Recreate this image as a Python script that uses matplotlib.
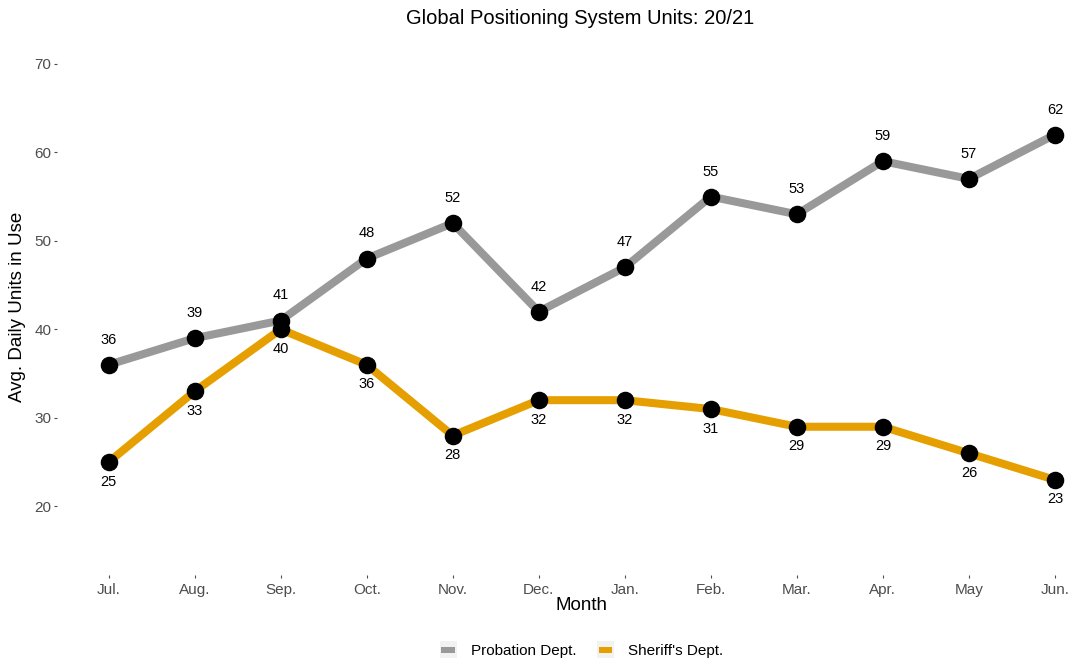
import matplotlib.pyplot as plt
import numpy as np
from matplotlib.legend_handler import HandlerBase
from matplotlib.patches import Patch, Rectangle

months = ["Jul.", "Aug.", "Sep.", "Oct.", "Nov.", "Dec.",
          "Jan.", "Feb.", "Mar.", "Apr.", "May", "Jun."]
probation = [36, 39, 41, 48, 52, 42, 47, 55, 53, 59, 57, 62]
sheriff = [25, 33, 40, 36, 28, 32, 32, 31, 29, 29, 26, 23]

GREY = "#999999"
ORANGE = "#E69F00"

plt.rcParams["font.family"] = ["Liberation Sans", "DejaVu Sans"]


class KeyHandler(HandlerBase):
    # ggplot-style key: pale square behind a short thick bar
    def create_artists(self, legend, orig_handle, xdescent, ydescent,
                       width, height, fontsize, trans):
        side = height * 1.6
        x0 = -xdescent + (width - side) / 2
        y0 = -ydescent + (height - side) / 2
        bg = Rectangle((x0, y0), side, side, facecolor="#f2f2f2",
                       edgecolor="none", transform=trans)
        bw, bh = side * 0.8, side * 0.35
        bar = Rectangle((x0 + (side - bw) / 2, y0 + (side - bh) / 2), bw, bh,
                        facecolor=orig_handle.get_facecolor(),
                        edgecolor="none", transform=trans)
        return [bg, bar]


fig = plt.figure(figsize=(10.71, 6.62), dpi=100)
# panel runs past the right edge, as in the original export
ax = fig.add_axes([0.0532, 0.1314, 0.980, 0.809])

x = np.arange(1, len(months) + 1)

ax.plot(x, probation, color=GREY, lw=5.8, solid_capstyle="butt", zorder=2)
ax.plot(x, sheriff, color=ORANGE, lw=5.8, solid_capstyle="butt", zorder=2)
ax.scatter(x, probation, s=135, color="black", zorder=3)
ax.scatter(x, sheriff, s=135, color="black", zorder=3)

for xi, v in zip(x, probation):
    ax.annotate(str(v), (xi, v), xytext=(0, 13), textcoords="offset points",
                ha="center", va="bottom", fontsize=10.5, color="black")
for xi, v in zip(x, sheriff):
    ax.annotate(str(v), (xi, v), xytext=(0, -9), textcoords="offset points",
                ha="center", va="top", fontsize=10.5, color="black")

ax.set_xlim(0.4, 12.6)
ax.set_ylim(12.25, 72.75)
ax.set_xticks(x)
ax.set_xticklabels(months)
ax.set_yticks([20, 30, 40, 50, 60, 70])

for s in ax.spines.values():
    s.set_visible(False)
ax.tick_params(axis="both", colors="#4d4d4d", labelsize=11, length=2.5,
               width=0.8)
ax.tick_params(axis="y", pad=1.5)
ax.tick_params(axis="x", pad=3)

ax.set_xlabel("Month", fontsize=13.5, labelpad=0)
ax.set_ylabel("Avg. Daily Units in Use", fontsize=13.5, labelpad=6)

fig.text(0.542, 0.972, "Global Positioning System Units: 20/21",
         ha="center", va="center", fontsize=14.5)

handles = [Patch(facecolor=GREY, edgecolor="none", label="Probation Dept."),
           Patch(facecolor=ORANGE, edgecolor="none", label="Sheriff's Dept.")]
fig.legend(handles=handles, loc="center", bbox_to_anchor=(0.542, 0.0165),
           ncol=2, frameon=False, fontsize=11, handlelength=1.4,
           handleheight=0.7, handletextpad=0.8, columnspacing=1.2,
           handler_map={Patch: KeyHandler()})

fig.savefig("out.png", dpi=100)
